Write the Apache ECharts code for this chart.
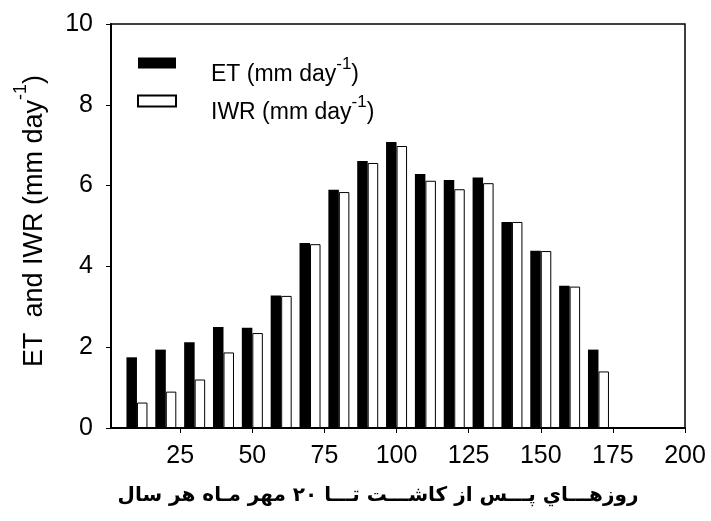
<!DOCTYPE html>
<html>
<head>
<meta charset="utf-8">
<script src="https://cdn.jsdelivr.net/npm/echarts@6/dist/echarts.min.js"></script>
<style>
html,body{margin:0;padding:0;background:#fff;}
#chart{width:711px;height:521px;}
</style>
</head>
<body>
<div id="chart"></div>
<script>
const xValues = [10, 20, 30, 40, 50, 60, 70, 80, 90, 100, 110, 120, 130, 140, 150, 160, 170];
const etValues = [1.75, 1.94, 2.12, 2.50, 2.48, 3.28, 4.58, 5.90, 6.61, 7.08, 6.29, 6.14, 6.20, 5.10, 4.39, 3.52, 1.94];
const iwrValues = [0.63, 0.90, 1.20, 1.87, 2.35, 3.27, 4.55, 5.84, 6.56, 6.98, 6.12, 5.91, 6.06, 5.10, 4.38, 3.50, 1.40];
const xTicks = [25, 50, 75, 100, 125, 150, 175, 200];
const seriesNames = ['ET', 'IWR'];
const xTitle = 'روزهـــاي پـــس از كاشـــت تـــا ٢٠ مهر مـاه هر سال';

const FONT = 'Liberation Sans, Arial, sans-serif';
const chart = echarts.init(document.getElementById('chart'), null, {renderer: 'canvas'});

const option = {
  backgroundColor: '#fff',
  animation: false,
  grid: {left: 111, right: 26, top: 24, bottom: 93, show: true, borderColor: '#000', borderWidth: 1.5, backgroundColor: 'transparent'},
  legend: {
    orient: 'vertical',
    left: 137,
    top: 56,
    padding: 0,
    itemWidth: 38,
    itemHeight: 11,
    itemGap: 8,
    icon: 'rect',
    data: seriesNames,
    formatter: function (name) { return '{b|' + name + ' (mm day}{s|-1}{b|)}'; },
    textStyle: {
      padding: [16, 0, 0, 30],
      rich: {
        b: {fontSize: 23, fontFamily: FONT, color: '#000', lineHeight: 30, verticalAlign: 'bottom'},
        s: {fontSize: 17, fontFamily: FONT, color: '#000', lineHeight: 10, verticalAlign: 'top'}
      }
    }
  },
  xAxis: {
    type: 'value',
    min: 1,
    max: 200,
    splitLine: {show: false},
    axisLine: {show: true, onZero: false, lineStyle: {color: '#000', width: 2}},
    axisTick: {show: true, length: 5, customValues: xTicks, lineStyle: {color: '#000', width: 1}},
    axisLabel: {customValues: xTicks, color: '#000', fontSize: 25, fontFamily: FONT, margin: 16}
  },
  yAxis: {
    type: 'value',
    min: 0,
    max: 10,
    interval: 2,
    splitLine: {show: false},
    axisLine: {show: true, lineStyle: {color: '#000', width: 2}},
    axisTick: {show: true, length: 5, lineStyle: {color: '#000', width: 1}},
    axisLabel: {color: '#000', fontSize: 25, fontFamily: FONT, margin: 18}
  },
  series: [
    {
      name: seriesNames[0],
      type: 'bar',
      barWidth: 10.5,
      barGap: '0%',
      itemStyle: {color: '#000', borderColor: '#000', borderWidth: 0},
      data: xValues.map((x, i) => [x, etValues[i]])
    },
    {
      name: seriesNames[1],
      type: 'bar',
      barWidth: 10.5,
      barGap: '0%',
      itemStyle: {color: '#fff', borderColor: '#000', borderWidth: 1},
      data: xValues.map((x, i) => [x, iwrValues[i]])
    }
  ],
  graphic: [
    {
      type: 'text',
      x: 30,
      y: 221,
      rotation: Math.PI / 2,
      style: {
        text: '{b|ET  and IWR (mm day}{s|-1}{b|)}',
        align: 'center',
        verticalAlign: 'middle',
        rich: {
          b: {fontSize: 27, fontFamily: FONT, fill: '#000', lineHeight: 36, verticalAlign: 'bottom'},
          s: {fontSize: 18, fontFamily: FONT, fill: '#000', lineHeight: 14, verticalAlign: 'top'}
        }
      }
    },
    {
      type: 'text',
      x: 378,
      y: 496,
      style: {
        text: xTitle,
        align: 'center',
        verticalAlign: 'middle',
        font: 'bold 20px "DejaVu Sans", sans-serif',
        fill: '#000'
      }
    }
  ]
};
chart.setOption(option);
</script>
</body>
</html>
